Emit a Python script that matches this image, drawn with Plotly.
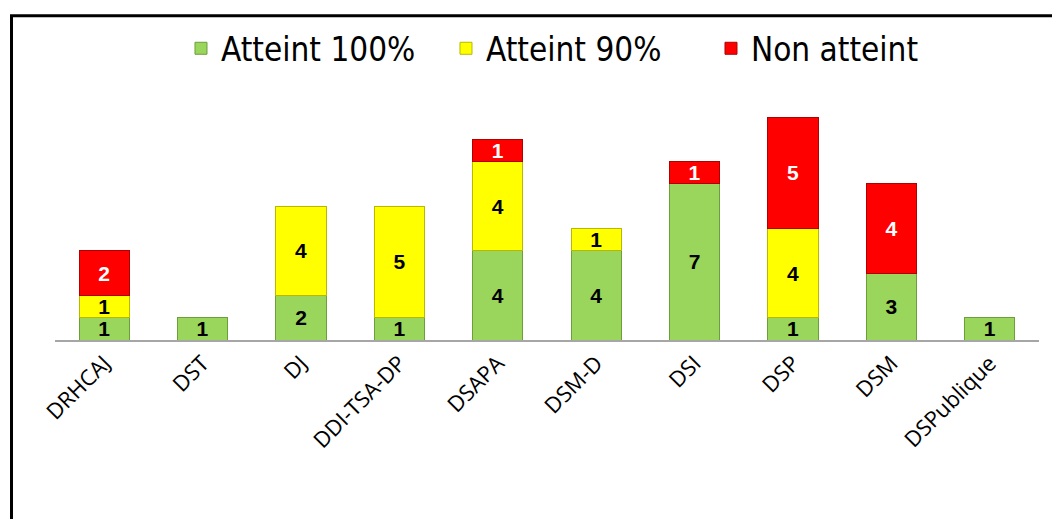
import plotly.graph_objects as go

categories = ["DRHCAJ", "DST", "DJ", "DDI-TSA-DP", "DSAPA", "DSM-D", "DSI", "DSP", "DSM", "DSPublique"]
atteint_100 = [1, 1, 2, 1, 4, 4, 7, 1, 3, 1]
atteint_90 = [1, 0, 4, 5, 4, 1, 0, 4, 0, 0]
non_atteint = [2, 0, 0, 0, 1, 0, 1, 5, 4, 0]

series = [
    ("Atteint 100%", atteint_100, "#9AD55C", "#6E9E3A", "black"),
    ("Atteint 90%", atteint_90, "#FFFF00", "#B8B800", "black"),
    ("Non atteint", non_atteint, "#FF0000", "#B00000", "white"),
]

fig = go.Figure()
for name, vals, col, edge, tcol in series:
    fig.add_trace(go.Bar(
        x=categories,
        y=[v if v else None for v in vals],
        name=name,
        marker=dict(color=col, line=dict(color=edge, width=1)),
        text=[str(v) if v else "" for v in vals],
        textposition="inside",
        insidetextanchor="middle",
        textangle=0,
        textfont=dict(family="Liberation Sans, Arial, sans-serif", size=21, color=tcol, weight="bold"),
        constraintext="none",
    ))

fig.update_layout(
    barmode="stack",
    bargap=0.49,
    width=1060,
    height=519,
    margin=dict(l=47, r=29, t=105, b=187),
    paper_bgcolor="white",
    plot_bgcolor="white",
    uniformtext=dict(mode=False),
    legend=dict(
        orientation="h",
        x=0.532, xanchor="center",
        y=1.308, yanchor="middle",
        font=dict(family="DejaVu Sans Condensed, Liberation Sans, sans-serif", size=33, color="black"),
        itemwidth=30,
        entrywidth=220,
        entrywidthmode="pixels",
        traceorder="normal",
    ),
    xaxis=dict(
        showline=True, linecolor="#A6A6A6", linewidth=1.5,
        tickangle=-45,
        tickfont=dict(family="Open Sans, sans-serif", size=22, color="black"),
        ticks="",
    ),
    yaxis=dict(
        range=[0, 10], showgrid=False, showticklabels=False, zeroline=False, showline=False,
    ),
    showlegend=True,
)

fig.add_shape(
    type="rect", xref="paper", yref="paper",
    x0=-0.0442, y0=-2.0, x1=1.2, y1=1.4537,
    line=dict(color="black", width=3), fillcolor="rgba(0,0,0,0)", layer="above",
)

fig.write_html("out.html")
